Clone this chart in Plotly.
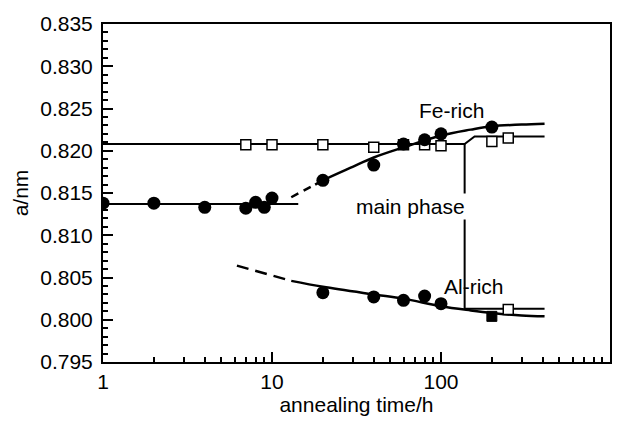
import plotly.graph_objects as go

# ---- data ----
fe_x = [1, 2, 4, 7, 8, 9, 10, 20, 40, 60, 80, 100, 200]
fe_y = [0.8138, 0.8138, 0.8133, 0.8132, 0.8139, 0.8133, 0.8144, 0.8165, 0.8183, 0.8208, 0.8213, 0.8220, 0.8228]

main_x = [7, 10, 20, 40, 60, 80, 100, 200, 250]
main_y = [0.8207, 0.8207, 0.8207, 0.8204, 0.8207, 0.8207, 0.8206, 0.8211, 0.8215]

al_x = [20, 40, 60, 80, 100]
al_y = [0.8032, 0.8027, 0.8023, 0.8028, 0.8019]

low_open_x = [250]
low_open_y = [0.8012]
low_fill_x = [200]
low_fill_y = [0.8004]

# fitted / guide lines
init_x = [1, 14.3]
init_y = [0.8137, 0.8137]

fe_dash_x = [13, 18]
fe_dash_y = [0.8145, 0.8160]
fe_fit_x = [18, 20, 30, 40, 60, 100, 150, 200, 300, 410]
fe_fit_y = [0.8160, 0.8165, 0.8181, 0.8192, 0.8204, 0.8218, 0.8225, 0.8229, 0.8231, 0.8232]

al_dash_x = [6.2, 13]
al_dash_y = [0.8064, 0.8046]
al_fit_x = [13, 20, 40, 60, 100, 150, 200, 300, 410]
al_fit_y = [0.8046, 0.8039, 0.8030, 0.8025, 0.8016, 0.8011, 0.8008, 0.8005, 0.8004]

main_up_x = [1, 138, 158, 410]
main_up_y = [0.8208, 0.8208, 0.8217, 0.8217]
main_low_x = [138, 138, 410]
main_low_y = [0.8208, 0.8013, 0.8013]

FONT = "Liberation Sans, Arial, Helvetica, sans-serif"
FS = 21
fig = go.Figure()

def line(x, y, dash="solid", w=2.5, shape="linear"):
    fig.add_trace(go.Scatter(x=x, y=y, mode="lines",
                             line=dict(color="black", width=w, dash=dash, shape=shape),
                             showlegend=False, hoverinfo="skip"))

line(init_x, init_y, w=2)
line(main_up_x, main_up_y, w=2)
line(main_low_x, main_low_y, w=2)
line(fe_dash_x, fe_dash_y, dash="8px,6px")
line(fe_fit_x, fe_fit_y, shape="spline")
line(al_dash_x, al_dash_y, dash="12px,7px")
line(al_fit_x, al_fit_y, shape="spline")

fig.add_trace(go.Scatter(x=main_x, y=main_y, mode="markers", showlegend=False,
                         marker=dict(symbol="square", size=10, color="white", line=dict(color="black", width=1.5))))
fig.add_trace(go.Scatter(x=low_open_x, y=low_open_y, mode="markers", showlegend=False,
                         marker=dict(symbol="square", size=10, color="white", line=dict(color="black", width=1.5))))
fig.add_trace(go.Scatter(x=low_fill_x, y=low_fill_y, mode="markers", showlegend=False,
                         marker=dict(symbol="square", size=10, color="black", line=dict(color="black", width=1))))
fig.add_trace(go.Scatter(x=fe_x, y=fe_y, mode="markers", showlegend=False,
                         marker=dict(symbol="circle", size=13, color="black")))
fig.add_trace(go.Scatter(x=al_x, y=al_y, mode="markers", showlegend=False,
                         marker=dict(symbol="circle", size=13, color="black")))

fig.add_annotation(x=2.065, y=0.8248, xref="x", yref="y", text="Fe-rich", showarrow=False,
                   font=dict(family=FONT, size=FS, color="black"))
fig.add_annotation(x=1.817, y=0.8134, xref="x", yref="y", text="main phase", showarrow=False,
                   bgcolor="white", font=dict(family=FONT, size=FS, color="black"))
fig.add_annotation(x=2.195, y=0.8039, xref="x", yref="y", text="Al-rich", showarrow=False,
                   font=dict(family=FONT, size=FS, color="black"))

fig.update_layout(
    width=631, height=424,
    margin=dict(l=103, r=21, t=21, b=57),
    paper_bgcolor="white", plot_bgcolor="white",
    font=dict(family=FONT, size=FS, color="black"),
)
fig.update_xaxes(
    type="log", range=[0, 3],
    tickvals=[1, 10, 100, 1000], ticktext=["1", "10", "100", "1000"],
    ticks="inside", ticklen=10, tickwidth=2, tickcolor="black",
    minor=dict(ticks="inside", ticklen=5, tickwidth=1.5, tickcolor="black", dtick="D1", showgrid=False),
    showline=True, linecolor="black", linewidth=2, mirror=True,
    showgrid=False, zeroline=False,
    title=dict(text="annealing time/h", standoff=4, font=dict(size=FS)),
    tickfont=dict(size=FS),
)
fig.update_yaxes(
    range=[0.795, 0.835], dtick=0.005, tick0=0.795, tickformat=".3f",
    ticks="inside", ticklen=10, tickwidth=2, tickcolor="black",
    minor=dict(ticks="inside", ticklen=5, tickwidth=1.5, tickcolor="black", dtick=0.001, showgrid=False),
    showline=True, linecolor="black", linewidth=2, mirror=True,
    showgrid=False, zeroline=False,
    ticklabelstandoff=4,
    title=dict(text="a/nm", standoff=6, font=dict(size=FS)),
    tickfont=dict(size=FS),
)

fig.write_html("out.html")
